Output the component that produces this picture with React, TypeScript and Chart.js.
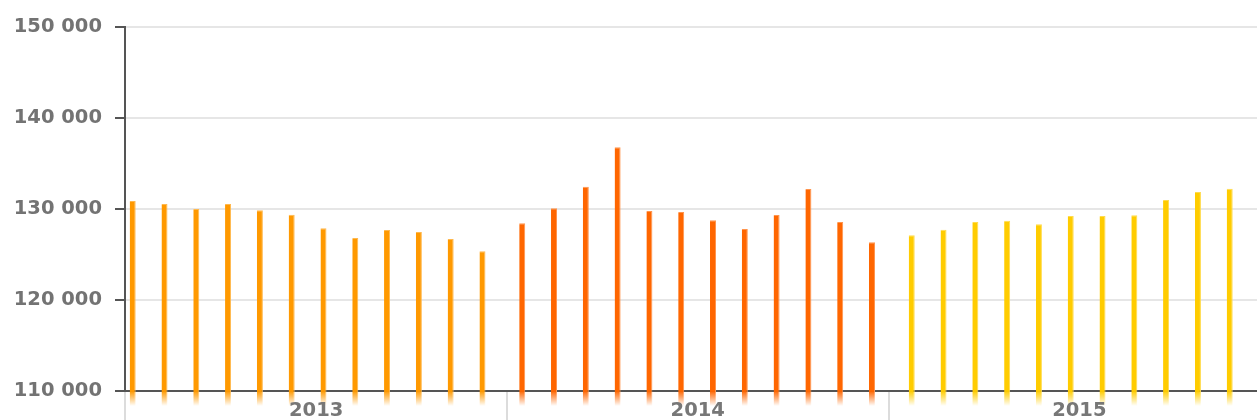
import React, { useEffect, useRef } from "react";
import { Chart, registerables } from "chart.js";

Chart.register(...registerables);

const YEARS = ["2013", "2014", "2015"];
const VALUES_2013 = [130880, 130550, 130000, 130550, 129860, 129380, 127880, 126815, 127690, 127470, 126700, 125350];
const VALUES_2014 = [128430, 130080, 132450, 136780, 129780, 129670, 128760, 127800, 129340, 132200, 128570, 126340];
const VALUES_2015 = [127110, 127730, 128570, 128720, 128320, 129230, 129230, 129300, 130990, 131870, 132230];
const SERIES = [VALUES_2013, VALUES_2014, VALUES_2015];
const COLORS = ["#ff9900", "#ff6600", "#ffcc00"];
const EDGE_COLORS = ["#ffb84d", "#ff944d", "#ffdb4d"];
const Y_MIN = 110000;
const Y_MAX = 150000;
const Y_STEP = 10000;

// layout constants (axis units)
const YEAR_SPAN = 12.25;
const GROUP_SPAN = 12;
const GROUP_START = -0.23;
const X_MIN = -0.242;
const X_MAX = 35.358;

const fmt = (n: number) => String(n).replace(/\B(?=(\d{3})+(?!\d))/g, " ");

function fade(chart: any, color: string) {
  const area = chart.chartArea;
  if (!area) return color;
  const g = chart.ctx.createLinearGradient(0, area.bottom, 0, area.bottom + 15);
  g.addColorStop(0, color);
  g.addColorStop(1, color + "00");
  return g;
}

const yearPlugin = {
  id: "yearLabels",
  afterDraw(chart: any) {
    const { ctx, chartArea } = chart;
    const xs = chart.scales.x;
    ctx.save();
    ctx.strokeStyle = "#dcdcdc";
    ctx.lineWidth = 2;
    YEARS.forEach((y, i) => {
      const start = xs.getPixelForValue(GROUP_START + i * GROUP_SPAN);
      const px = i === 0 ? chartArea.left : Math.round(start);
      ctx.beginPath();
      ctx.moveTo(px, chartArea.bottom + 1);
      ctx.lineTo(px, chart.height);
      ctx.stroke();
    });
    ctx.fillStyle = "#777777";
    ctx.font = "bold 19.5px 'DejaVu Sans'";
    ctx.textAlign = "center";
    ctx.textBaseline = "alphabetic";
    YEARS.forEach((y, i) => {
      const c = xs.getPixelForValue(GROUP_START + i * GROUP_SPAN + GROUP_SPAN / 2);
      ctx.fillText(y, c, 416);
    });
    ctx.restore();
  },
};

export default function App() {
  const ref = useRef<HTMLCanvasElement>(null);
  useEffect(() => {
    document.body.style.margin = "0";
    const datasets = SERIES.map((vals, yi) => ({
      label: YEARS[yi],
      data: vals.map((v, m) => ({ x: yi * YEAR_SPAN + m, y: v })),
      backgroundColor: (c: any) => fade(c.chart, COLORS[yi]),
      borderColor: (c: any) => fade(c.chart, EDGE_COLORS[yi]),
      borderWidth: { top: 1, right: 1, left: 0, bottom: 0 },
      borderSkipped: false,
      barThickness: 6,
      inflateAmount: 0,
      base: 108350,
      clip: false,
      grouped: false,
    }));
    const chart = new Chart(ref.current!, {
      type: "bar",
      data: { datasets: datasets as any },
      plugins: [yearPlugin],
      options: {
        animation: false,
        responsive: false,
        layout: { padding: { top: 27, left: 0, right: 0, bottom: 0 } },
        plugins: { legend: { display: false }, tooltip: { enabled: false } },
        scales: {
          x: {
            type: "linear",
            min: X_MIN,
            max: X_MAX,
            offset: false,
            grid: { display: false },
            ticks: { display: false },
            border: { display: true, color: "#555555", width: 2 },
            afterFit: (s: any) => {
              s.height = 29;
            },
          },
          y: {
            min: Y_MIN,
            max: Y_MAX,
            ticks: {
              stepSize: Y_STEP,
              padding: 13,
              color: "#737373",
              font: { family: "'DejaVu Sans'", size: 19.5, weight: "bold" },
              callback: (v: any) => fmt(Number(v)),
            },
            grid: {
              color: "#e6e6e6",
              lineWidth: 2,
              tickLength: 10,
              tickColor: "#555555",
              tickWidth: 2,
            },
            border: { display: true, color: "#555555", width: 2 },
            afterFit: (s: any) => {
              s.width = 125;
            },
          },
        },
      } as any,
    });
    return () => chart.destroy();
  }, []);
  return (
    <div style={{ width: 1257, height: 420 }}>
      <canvas ref={ref} width={1257} height={420} />
    </div>
  );
}
